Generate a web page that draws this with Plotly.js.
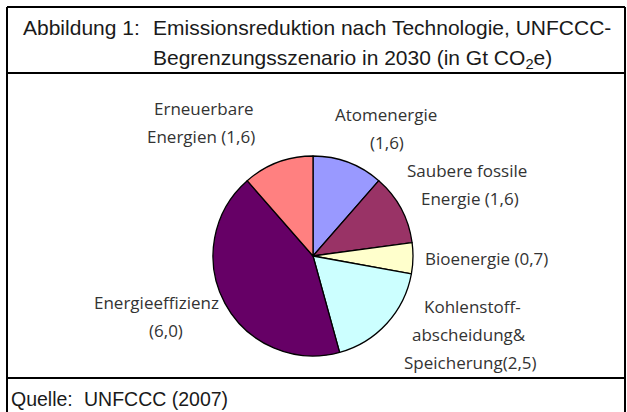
<!DOCTYPE html>
<html>
<head>
<meta charset="utf-8">
<script src="https://cdn.plot.ly/plotly-3.0.1.min.js"></script>
<style>html,body{margin:0;padding:0;background:#fff;}#chart{width:627px;height:412px;}</style>
</head>
<body>
<div id="chart"></div>
<script>
// ---- data ----
const categories = ["Atomenergie", "Saubere fossile Energie", "Bioenergie",
  "Kohlenstoffabscheidung & Speicherung", "Energieeffizienz", "Erneuerbare Energien"];
const values = [1.6, 1.6, 0.7, 2.5, 6.0, 1.6];
const sliceColors = ["#9999FF", "#993366", "#FFFFCC", "#CCFFFF", "#660066", "#FF8080"];
// label text lines ({v} = value with German decimal comma)
const labelLines = [
  ["Atomenergie", "({v})"],
  ["Saubere fossile", "Energie ({v})"],
  ["Bioenergie ({v})"],
  ["Kohlenstoff-", "abscheidung&", "Speicherung({v})"],
  ["Energieeffizienz", "({v})"],
  ["Erneuerbare", "Energien ({v})"]
];
const titleLabel = "Abbildung 1:";
const titleLines = ["Emissionsreduktion nach Technologie, UNFCCC-",
  "Begrenzungsszenario in 2030 (in Gt CO<sub>2</sub>e)"];
const sourceLabel = "Quelle:";
const sourceText = "UNFCCC (2007)";

// ---- layout helpers (pixel -> paper) ----
const W = 627, H = 412;
const px = x => x / W;
const py = y => 1 - y / H;
const fmt = v => v.toFixed(1).replace('.', ',');

// label line positions [cx, cy] per line
const labelPos = [
  [[386, 114], [387, 143]],
  [[467, 170], [470, 198]],
  [[486, 258]],
  [[472, 306], [469, 334], [470, 362]],
  [[156, 302], [166, 330]],
  [[204, 108], [201, 137]]
];

const labelFont = {family: "Open Sans, Noto Sans, sans-serif", size: 17, color: "#333333"};
const titleFont = {family: "Liberation Sans, Arial, sans-serif", size: 21, color: "#1a1a1a"};
const sourceFont = {family: "Liberation Sans, Arial, sans-serif", size: 19.5, color: "#1a1a1a"};

const annotations = [];
labelLines.forEach((lines, i) => {
  lines.forEach((t, j) => {
    annotations.push({
      text: t.replace('{v}', fmt(values[i])),
      x: px(labelPos[i][j][0]), y: py(labelPos[i][j][1]),
      xref: 'paper', yref: 'paper', xanchor: 'center', yanchor: 'middle',
      showarrow: false, font: labelFont
    });
  });
});
annotations.push({text: titleLabel, x: px(21), y: py(28), xref: 'paper', yref: 'paper',
  xanchor: 'left', yanchor: 'middle', showarrow: false, font: titleFont});
titleLines.forEach((t, j) => annotations.push({text: t, x: px(151), y: py(28 + j * 31),
  xref: 'paper', yref: 'paper', xanchor: 'left', yanchor: 'middle', showarrow: false, font: titleFont}));
annotations.push({text: sourceLabel, x: px(9), y: py(399), xref: 'paper', yref: 'paper',
  xanchor: 'left', yanchor: 'middle', showarrow: false, font: sourceFont});
annotations.push({text: sourceText, x: px(82), y: py(399), xref: 'paper', yref: 'paper',
  xanchor: 'left', yanchor: 'middle', showarrow: false, font: sourceFont});

const lineStyle = {color: "#000", width: 2};
const shapes = [
  {type: 'line', xref: 'paper', yref: 'paper', x0: px(7), x1: px(7), y0: py(7), y1: py(412), line: lineStyle},
  {type: 'line', xref: 'paper', yref: 'paper', x0: px(625), x1: px(625), y0: py(7), y1: py(412), line: lineStyle},
  {type: 'line', xref: 'paper', yref: 'paper', x0: px(7), x1: px(625), y0: py(7), y1: py(7), line: lineStyle},
  {type: 'line', xref: 'paper', yref: 'paper', x0: px(7), x1: px(625), y0: py(73), y1: py(73), line: lineStyle},
  {type: 'line', xref: 'paper', yref: 'paper', x0: px(7), x1: px(625), y0: py(378), y1: py(378), line: lineStyle}
];

const cx = 313, cy = 256, r = 100;
const trace = {
  type: 'pie',
  labels: categories,
  values: values,
  sort: false,
  direction: 'clockwise',
  rotation: 0,
  marker: {colors: sliceColors, line: {color: '#000', width: 1.3}},
  textinfo: 'none',
  hoverinfo: 'label+value',
  showlegend: false,
  domain: {x: [px(cx - r), px(cx + r)], y: [py(cy + r), py(cy - r)]}
};

Plotly.newPlot('chart', [trace], {
  width: W, height: H,
  margin: {l: 0, r: 0, t: 0, b: 0},
  paper_bgcolor: '#fff',
  showlegend: false,
  annotations: annotations,
  shapes: shapes
}, {displayModeBar: false, staticPlot: true});
</script>
</body>
</html>
